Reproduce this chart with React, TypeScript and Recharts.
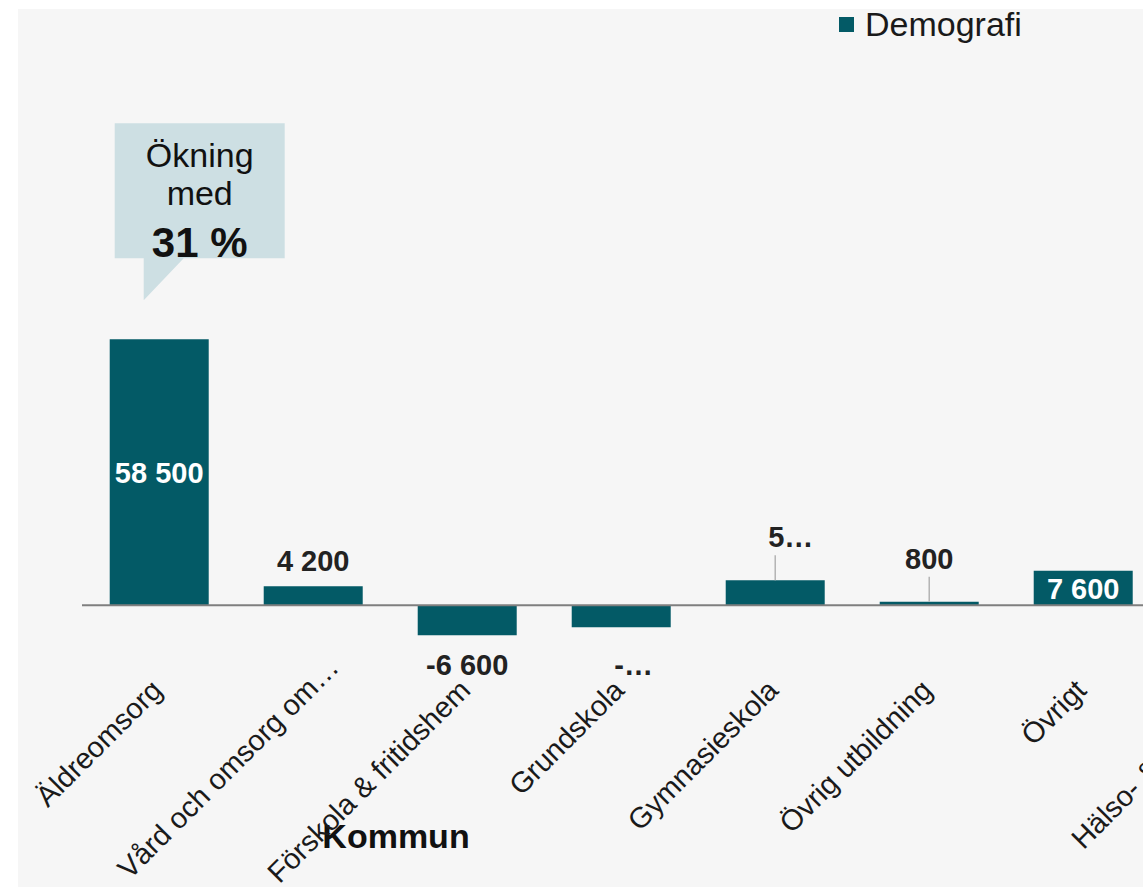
import React from 'react';
import { BarChart, Bar, XAxis, YAxis, ReferenceLine, LabelList } from 'recharts';

const FONT = '"Liberation Sans", Arial, Helvetica, sans-serif';
const BAR_COLOR = '#035a66';

const categories = [
  'Äldreomsorg',
  'Vård och omsorg om…',
  'Förskola & fritidshem',
  'Grundskola',
  'Gymnasieskola',
  'Övrig utbildning',
  'Övrigt',
  'Hälso- & sjukvård…',
];
const values = [58500, 4200, -6600, -4800, 5500, 800, 7600, 9000];
const valueLabels = ['58 500', '4 200', '-6 600', '-…', '5…', '800', '7 600', '9 000'];
const labelPlacement = ['inside', 'above', 'below', 'below', 'connector', 'connector', 'inside', 'inside'];
const seriesName = 'Demografi';
const axisTitle = 'Kommun';
const calloutIndex = 0;
const calloutLines = ['Ökning', 'med'];
const calloutValue = '31 %';

const data = categories.map((c, i) => ({ name: c, value: values[i] }));

const AxisTick = (props: any) => {
  const { x, y, payload } = props;
  const label = String(payload.value);
  const shift = label.endsWith('…') ? 32 : 0;
  const px = x + 5 + shift * 0.7071;
  const py = y + 15 - shift * 0.7071;
  return (
    <text
      x={px}
      y={py}
      transform={`rotate(-45 ${px} ${py})`}
      textAnchor="end"
      fontFamily={FONT}
      fontSize={29}
      fill="#1a1a1a"
    >
      {label}
    </text>
  );
};

const BarLabel = (props: any) => {
  const { x, y, width, height, index } = props;
  const top = Math.min(y, y + height);
  const bottom = Math.max(y, y + height);
  const cx = x + width / 2;
  const text = valueLabels[index];
  const mode = labelPlacement[index];
  const truncated = text.endsWith('…');
  const anchor = truncated ? 'start' : 'middle';
  const tx = truncated ? cx - 7 : cx;
  const common = {
    fontFamily: FONT,
    fontSize: 29,
    fontWeight: 700,
    textAnchor: anchor,
  } as any;
  const parts: any[] = [];
  if (mode === 'inside') {
    parts.push(
      <text key="t" x={tx} y={(top + bottom) / 2 + 10.5} fill="#ffffff" {...common}>
        {text}
      </text>
    );
  } else if (mode === 'above') {
    parts.push(
      <text key="t" x={tx} y={top - 15.5} fill="#222222" {...common}>
        {text}
      </text>
    );
  } else if (mode === 'below') {
    parts.push(
      <text key="t" x={tx} y={bottom + (truncated ? 48 : 40)} fill="#222222" {...common}>
        {text}
      </text>
    );
  } else {
    parts.push(
      <line key="l" x1={cx} x2={cx} y1={top} y2={top - 25} stroke="#b3b3b3" strokeWidth={1.5} />
    );
    parts.push(
      <text key="t" x={tx} y={top - 33} fill="#222222" {...common}>
        {text}
      </text>
    );
  }
  if (index === calloutIndex) {
    const bx = x;
    const path = `M${bx + 5},${top - 216} H${bx + 175} V${top - 81} H${bx + 74} L${bx + 34},${top - 39} V${top - 81} H${bx + 5} Z`;
    parts.push(<path key="c" d={path} fill="#cddfe3" />);
    parts.push(
      <text key="c1" x={bx + 90} y={top - 172} textAnchor="middle" fontFamily={FONT} fontSize={34} fill="#111">
        {calloutLines[0]}
      </text>
    );
    parts.push(
      <text key="c2" x={bx + 90} y={top - 134} textAnchor="middle" fontFamily={FONT} fontSize={34} fill="#111">
        {calloutLines[1]}
      </text>
    );
    parts.push(
      <text key="c3" x={bx + 90} y={top - 82} textAnchor="middle" fontFamily={FONT} fontSize={42} fontWeight={700} fill="#111">
        {calloutValue}
      </text>
    );
  }
  return <g>{parts}</g>;
};

const AxisTitle = (props: any) => {
  const vb = props.viewBox || { x: 0, y: 0 };
  return (
    <text x={vb.x + 314} y={vb.y + 179} textAnchor="middle" fontFamily={FONT} fontSize={34} fontWeight={700} fill="#111">
      {axisTitle}
    </text>
  );
};

export default function App() {
  return (
    <>
      <style>{'html,body{margin:0;padding:0;overflow:hidden;background:#ffffff}'}</style>
      <div
        style={{
          position: 'absolute',
          left: 18,
          top: 9,
          width: 1125,
          height: 878,
          background: '#f6f6f6',
          overflow: 'hidden',
        }}
      >
        <BarChart
          width={1300}
          height={878}
          data={data}
          margin={{ top: 296, right: 4, bottom: 188, left: 64 }}
          barCategoryGap="18%"
        >
          <YAxis type="number" domain={[-14000, 66000]} hide />
          <XAxis
            dataKey="name"
            axisLine={false}
            tickLine={false}
            interval={0}
            height={30}
            tick={<AxisTick />}
            label={{ value: axisTitle, content: <AxisTitle /> }}
          />
          <Bar dataKey="value" name={seriesName} fill={BAR_COLOR} isAnimationActive={false}>
            <LabelList dataKey="value" content={<BarLabel />} />
          </Bar>
          <ReferenceLine y={0} stroke="#7f7f7f" strokeWidth={2} />
        </BarChart>
        <div
          style={{
            position: 'absolute',
            left: 821,
            top: 0,
            height: 30,
            display: 'flex',
            alignItems: 'center',
            fontFamily: FONT,
            fontSize: 34,
            lineHeight: '30px',
            color: '#1a1a1a',
            whiteSpace: 'nowrap',
          }}
        >
          <span style={{ display: 'inline-block', width: 15, height: 15, background: BAR_COLOR, marginRight: 11 }} />
          <span>{seriesName}</span>
        </div>
      </div>
    </>
  );
}
